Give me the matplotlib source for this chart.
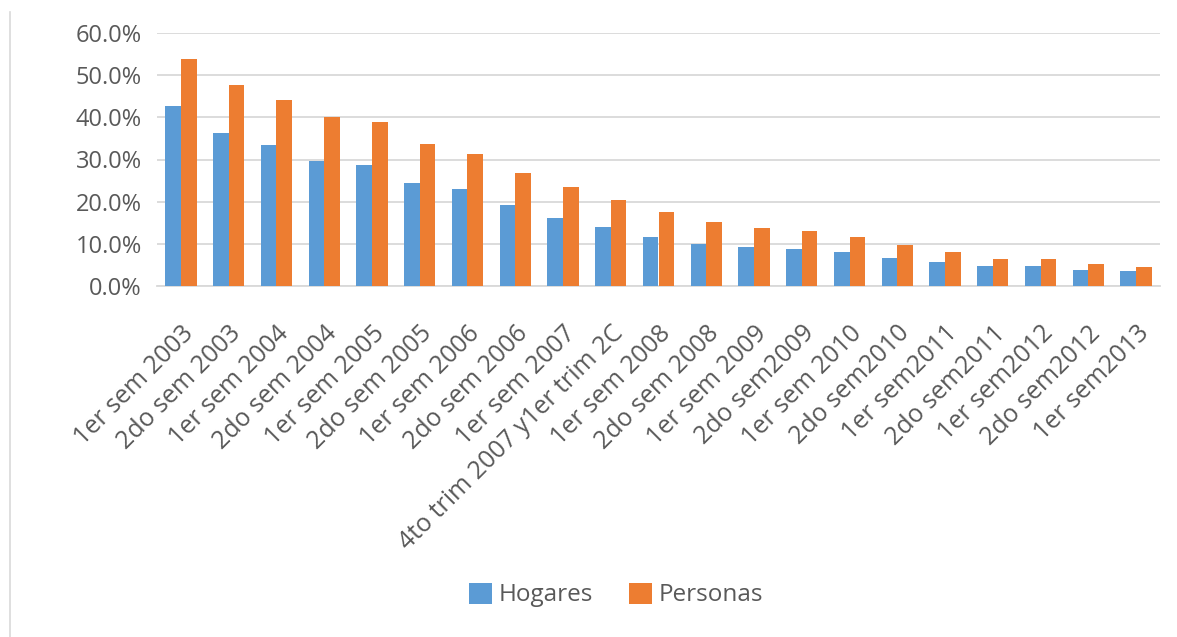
import matplotlib
matplotlib.use("Agg")
import matplotlib.pyplot as plt
import numpy as np
from matplotlib.ticker import FuncFormatter
from matplotlib.lines import Line2D

categories = ["1er sem 2003", "2do sem 2003", "1er sem 2004", "2do sem 2004",
              "1er sem 2005", "2do sem 2005", "1er sem 2006", "2do sem 2006",
              "1er sem 2007", "4to trim 2007 y1er trim 2C", "1er sem 2008",
              "2do sem 2008", "1er sem 2009", "2do sem2009", "1er sem 2010",
              "2do sem2010", "1er sem2011", "2do sem2011", "1er sem2012",
              "2do sem2012", "1er sem2013"]
hogares = [42.6, 36.4, 33.4, 29.6, 28.7, 24.5, 23.0, 19.1, 16.2, 13.9, 11.7,
           10.0, 9.2, 8.8, 8.0, 6.7, 5.6, 4.7, 4.7, 3.9, 3.6]
personas = [53.8, 47.7, 44.2, 40.1, 38.8, 33.7, 31.4, 26.8, 23.4, 20.5, 17.6,
            15.1, 13.7, 13.1, 11.7, 9.7, 8.1, 6.3, 6.3, 5.2, 4.6]
yticks = [0, 10, 20, 30, 40, 50, 60]

plt.rcParams['font.family'] = ['Open Sans', 'DejaVu Sans']
text_color = '#595959'
grid_color = '#d9d9d9'

fig = plt.figure(figsize=(11.77, 6.37), dpi=100)
ax = fig.add_axes([157/1177, 1-286/637, (1160-157)/1177, (286-33)/637])

x = np.arange(len(categories))
w = 0.328
ax.bar(x - w/2, hogares, width=w, color='#5B9BD5', label='Hogares', zorder=3)
ax.bar(x + w/2, personas, width=w, color='#ED7D31', label='Personas', zorder=3)

ax.set_xlim(-0.5, len(categories) - 0.5)
ax.set_ylim(0, 60)
ax.set_yticks(yticks)
ax.yaxis.set_major_formatter(FuncFormatter(lambda v, p: f"{v:.1f}%"))
ax.grid(axis='y', color=grid_color, linewidth=1.3, zorder=0)
for s in ['top', 'right', 'left']:
    ax.spines[s].set_visible(False)
ax.spines['bottom'].set_color(grid_color)
ax.spines['bottom'].set_linewidth(1.3)
ax.tick_params(axis='both', length=0, colors=text_color)
ax.tick_params(axis='y', pad=11, labelsize=17)
ax.set_xticks(x)
ax.set_xticklabels(categories, rotation=45, ha='right', rotation_mode='anchor',
                   fontsize=18, color=text_color)
ax.tick_params(axis='x', pad=25)

fig.legend(loc='center', bbox_to_anchor=(616/1177, 1-595/637), ncol=2,
           frameon=False, fontsize=17.5, labelcolor=text_color,
           handlelength=0.95, handleheight=0.95, handletextpad=0.25,
           columnspacing=1.5)

fig.add_artist(Line2D([10/1177, 10/1177], [0, 1-12/637], transform=fig.transFigure,
                      color=grid_color, linewidth=1.2))

fig.savefig("out.png", dpi=100)
